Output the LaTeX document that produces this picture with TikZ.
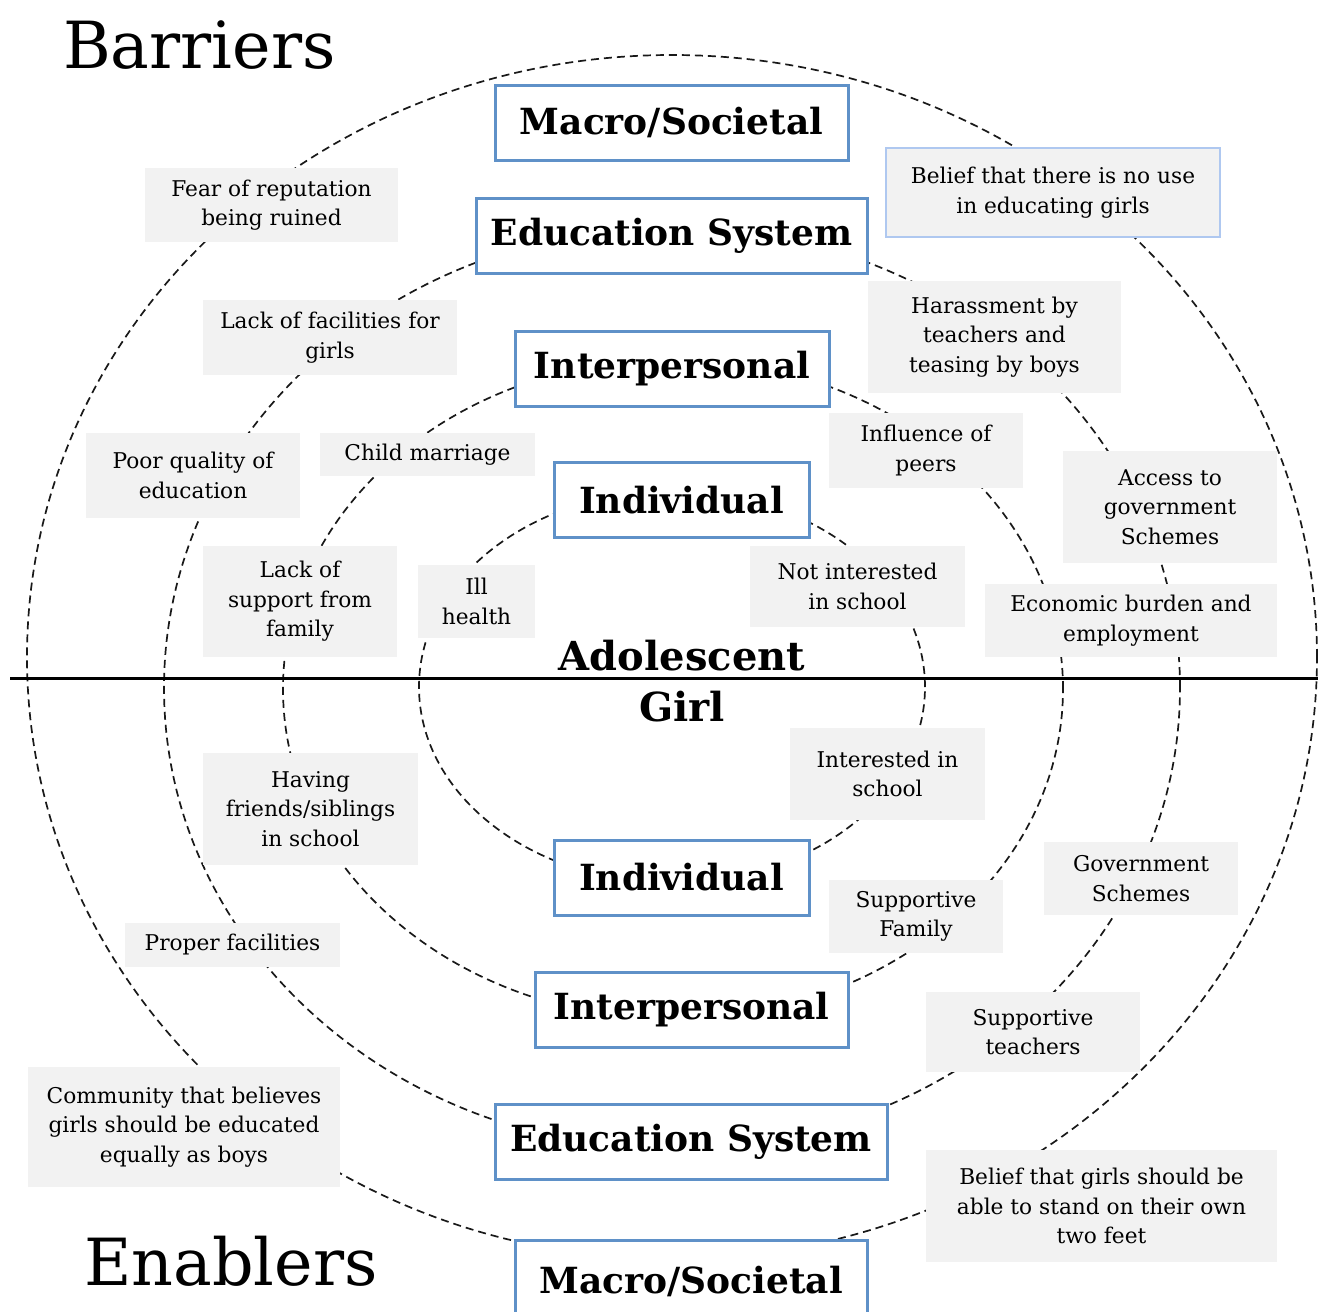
\documentclass[tikz,border=0pt]{standalone}
\usepackage{fontspec}
\setmainfont{DejaVu Serif}
\usepackage{tikz}
\definecolor{boxblue}{RGB}{95,145,200}
\definecolor{paleblue}{RGB}{175,200,240}
\definecolor{labelgray}{RGB}{242,242,242}

\begin{document}
\begin{tikzpicture}[x=1pt,y=-1pt,
    ring/.style={draw=black!90, line width=1.7pt, dash pattern=on 8pt off 5pt},
    level/.style={draw=boxblue, line width=3pt, fill=white, inner sep=0pt,
      minimum height=75pt, font=\bfseries\fontsize{36}{42}\selectfont},
    lbl/.style={fill=labelgray, inner sep=0pt, align=center,
      font=\fontsize{21.7}{29.5}\selectfont}]
  \useasboundingbox (0,0) rectangle (1318,1312);

  % the four levels
  \draw[ring] (672,687) ellipse [x radius=253pt, y radius=196pt];
  \draw[ring] (673,689) ellipse [x radius=390pt, y radius=330pt];
  \draw[ring] (672,688) ellipse [x radius=508pt, y radius=461pt];
  \draw[ring] (672,657) ellipse [x radius=645pt, y radius=602pt];

  % barriers above, enablers below
  \coordinate (lineL) at (10,678);
  \coordinate (lineR) at (1318,678);
  \draw[line width=3pt] (lineL) -- (lineR);

  \node[anchor=base west, inner sep=0pt, font=\fontsize{65}{72}\selectfont] (barriers) at (63,68) {Barriers};
  \node[anchor=base west, inner sep=0pt, font=\fontsize{65}{72}\selectfont] (enablers) at (84,1285) {Enablers};
  \node[align=center, inner sep=0pt, font=\bfseries\fontsize{40}{51}\selectfont] (girl) at (682,681) {Adolescent\\Girl};

  \node[level, minimum width=353pt] (macroT) at (671.5,122.5) {Macro/Societal};
  \node[level, minimum width=391pt] (eduT) at (671.5,235.5) {Education System};
  \node[level, minimum width=314pt] (interT) at (672,368.5) {Interpersonal};
  \node[level, minimum width=255pt] (indivT) at (681.5,500) {Individual};
  \node[level, minimum width=255pt] (indivB) at (681.5,877.5) {Individual};
  \node[level, minimum width=313pt] (interB) at (691.5,1009.5) {Interpersonal};
  \node[level, minimum width=392pt] (eduB) at (691,1141.5) {Education System};
  \node[level, minimum width=352pt, minimum height=82pt] (macroB) at (691,1281) {Macro/Societal};

  % barriers
  \node[lbl, minimum width=253pt, minimum height=74pt] (fear) at (271.5,205) {Fear of reputation\\being ruined};
  \node[lbl, draw=paleblue, line width=1.5pt, minimum width=334pt, minimum height=89pt] (nouse) at (1053,192.5) {Belief that there is no use\\in educating girls};
  \node[lbl, minimum width=254pt, minimum height=75pt] (facil) at (330,337.5) {Lack of facilities for\\girls};
  \node[lbl, minimum width=253pt, minimum height=112pt] (harass) at (994.5,337) {Harassment by\\teachers and\\teasing by boys};
  \node[lbl, minimum width=214pt, minimum height=85pt] (poorq) at (193,475.5) {Poor quality of\\education};
  \node[lbl, minimum width=215pt, minimum height=43pt] (childm) at (427.5,454.5) {Child marriage};
  \node[lbl, minimum width=194pt, minimum height=75pt] (peers) at (926,450.5) {Influence of\\peers};
  \node[lbl, minimum width=214pt, minimum height=112pt] (access) at (1170,507) {Access to\\government\\Schemes};
  \node[lbl, minimum width=194pt, minimum height=111pt] (nosupport) at (300,601.5) {Lack of\\support from\\family};
  \node[lbl, minimum width=117pt, minimum height=73pt] (illh) at (476.5,601.5) {Ill\\health};
  \node[lbl, minimum width=215pt, minimum height=81pt] (notint) at (857.5,586.5) {Not interested\\in school};
  \node[lbl, minimum width=292pt, minimum height=73pt] (econ) at (1131,620.5) {Economic burden and\\employment};

  % enablers
  \node[lbl, minimum width=195pt, minimum height=92pt] (intschool) at (887.5,774) {Interested in\\school};
  \node[lbl, minimum width=215pt, minimum height=112pt] (friends) at (310.5,809) {Having\\friends/siblings\\in school};
  \node[lbl, minimum width=194pt, minimum height=73pt] (govt) at (1141,878.5) {Government\\Schemes};
  \node[lbl, minimum width=174pt, minimum height=73pt] (suppfam) at (916,916.5) {Supportive\\Family};
  \node[lbl, minimum width=215pt, minimum height=44pt] (proper) at (232.5,945) {Proper facilities};
  \node[lbl, minimum width=214pt, minimum height=80pt] (suppteach) at (1033,1032) {Supportive\\teachers};
  \node[lbl, minimum width=312pt, minimum height=120pt] (community) at (184,1127) {Community that believes\\girls should be educated\\equally as boys};
  \node[lbl, minimum width=351pt, minimum height=112pt] (standfeet) at (1101.5,1206) {Belief that girls should be\\able to stand on their own\\two feet};
\end{tikzpicture}
\end{document}
